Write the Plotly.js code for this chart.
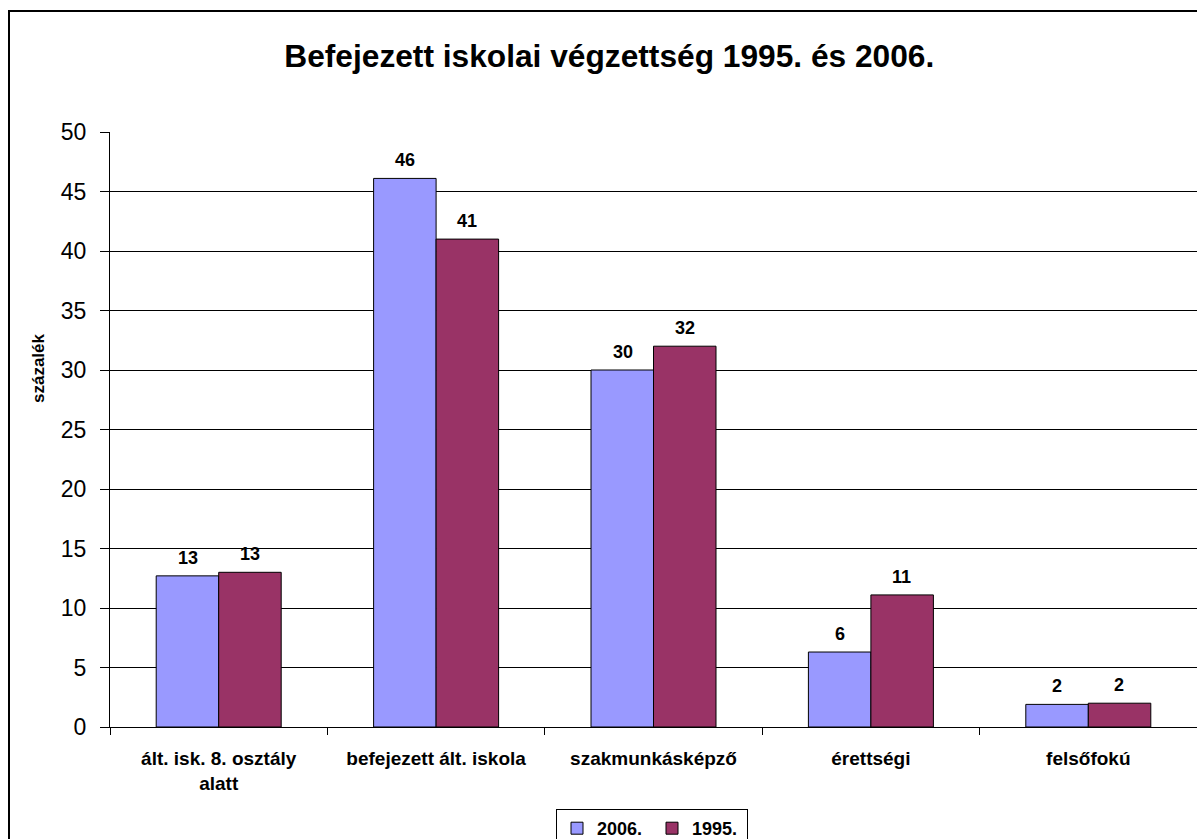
<!DOCTYPE html>
<html>
<head>
<meta charset="utf-8">
<script src="https://cdn.plot.ly/plotly-3.0.1.min.js"></script>
<style>
html,body{margin:0;padding:0;background:#fff;}
#chart{width:1197px;height:839px;}
</style>
</head>
<body>
<div id="chart"></div>
<script>
const categories = ["ált. isk. 8. osztály<br>alatt", "befejezett ált. iskola", "szakmunkásképző", "érettségi", "felsőfokú"];
const values2006 = [12.7, 46.1, 30.0, 6.3, 1.9];
const values1995 = [13.0, 41.0, 32.0, 11.1, 2.0];
const seriesNames = ["2006.", "1995."];
const seriesColors = ["#9999FF", "#993366"];
const yTitle = "százalék";
const chartTitle = "Befejezett iskolai végzettség 1995. és 2006.";

const font = "Liberation Sans, Arial, sans-serif";

function makeTrace(name, vals, color) {
  return {
    type: "bar",
    name: name,
    x: categories,
    y: vals,
    marker: {color: color, line: {color: "#000", width: 1}},
    hoverinfo: "skip"
  };
}

const data = [
  makeTrace(seriesNames[0], values2006, seriesColors[0]),
  makeTrace(seriesNames[1], values1995, seriesColors[1])
];

const annotations = [];
[values2006, values1995].forEach((vals, si) => {
  vals.forEach((v, i) => {
    annotations.push({
      x: categories[i], y: v, xref: "x", yref: "y",
      text: "<b>" + Math.round(v) + "</b>",
      showarrow: false,
      xanchor: "center", yanchor: "bottom",
      xshift: si === 0 ? -31 : 31,
      yshift: 6,
      font: {family: font, size: 18, color: "#000"}
    });
  });
});
annotations.push({
  xref: "paper", yref: "paper",
  x: (38 - 110) / 1087, y: (727 - 368) / 595,
  xanchor: "center", yanchor: "middle",
  text: "<b>" + yTitle + "</b>",
  textangle: -90,
  showarrow: false,
  font: {family: font, size: 17, color: "#000"}
});

const layout = {
  width: 1197,
  height: 839,
  margin: {l: 110, r: 0, t: 132, b: 112},
  paper_bgcolor: "#fff",
  plot_bgcolor: "#fff",
  font: {family: font, color: "#000"},
  title: {
    text: "<b>" + chartTitle + "</b>",
    font: {family: font, size: 31.7, color: "#000"},
    x: 0.509, xanchor: "center",
    y: 1 - 56/839, yanchor: "middle", yref: "container"
  },
  barmode: "group",
  bargap: 0.425,
  bargroupgap: 0,
  xaxis: {
    type: "category",
    tickson: "boundaries",
    ticks: "outside",
    ticklen: 7,
    tickcolor: "#000",
    showline: true,
    linecolor: "#000",
    linewidth: 1,
    tickfont: {family: font, size: 19, color: "#000", weight: "bold"},
    ticklabelstandoff: 14,
    showgrid: false,
    automargin: false,
    range: [-0.5, 4.5],
    fixedrange: true
  },
  yaxis: {
    range: [0, 50],
    dtick: 5,
    ticks: "outside",
    ticklen: 9,
    tickcolor: "#000",
    showline: true,
    linecolor: "#000",
    linewidth: 1,
    showgrid: true,
    gridcolor: "#000",
    gridwidth: 1,
    zeroline: false,
    tickfont: {family: font, size: 23, color: "#000"},
    ticklabelstandoff: 9,
    automargin: false,
    fixedrange: true
  },
  annotations: annotations,
  showlegend: true,
  legend: {
    orientation: "h",
    xref: "container", yref: "container",
    x: 652 / 1197, xanchor: "center",
    y: 1 - 809 / 839, yanchor: "top",
    bordercolor: "#000",
    borderwidth: 1,
    bgcolor: "#fff",
    font: {family: font, size: 18, color: "#000", weight: "bold"},
    itemwidth: 30,
    entrywidth: 50,
    tracegroupgap: 0
  },
  shapes: [{
    type: "rect",
    xref: "paper", yref: "paper",
    x0: (9 - 110) / 1087, x1: 1.05,
    y0: -0.4, y1: (727 - 11) / 595,
    line: {color: "#000", width: 2},
    fillcolor: "rgba(0,0,0,0)",
    layer: "below"
  }]
};

Plotly.newPlot("chart", data, layout, {displayModeBar: false, staticPlot: true});
</script>
</body>
</html>
